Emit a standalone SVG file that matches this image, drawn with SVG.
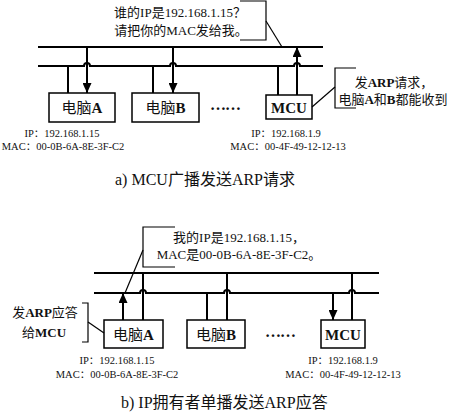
<svg xmlns="http://www.w3.org/2000/svg" width="454" height="415" viewBox="0 0 454 415">
<defs>
<marker id="ah" markerUnits="userSpaceOnUse" markerWidth="11" markerHeight="9" refX="10" refY="4.5" orient="auto">
<path d="M0,0 L10,4.5 L0,9 z" fill="#000"/>
</marker>
<style>
text{font-family:"Liberation Serif","Noto Sans CJK SC",serif;fill:#111}
.bus{fill:none;stroke:#000;stroke-width:2}
.ln{fill:none;stroke:#000;stroke-width:2}
.box{fill:#fff;stroke:#000;stroke-width:1.5}
.co{fill:none;stroke:#000;stroke-width:1.2}
.nt{font-size:15px;text-anchor:middle}
.b{font-weight:bold}
.ct{font-size:13px;text-anchor:middle}
.ip{font-size:10.5px;text-anchor:middle}
.cap{font-size:16px}
.dots{font-size:16px;font-weight:bold;text-anchor:middle;letter-spacing:-1px}
</style>
</defs>
<rect width="454" height="415" fill="#fff"/>

<g id="connectors">
<!-- panel a -->
<path class="bus" d="M38 47 H323"/>
<path class="bus" d="M38 66 H84 A3 3 0 0 1 90 66 H170 A3 3 0 0 1 176 66 H294 A3 3 0 0 1 300 66 H323"/>
<path class="ln" d="M68 66 V93"/>
<path class="ln" d="M87 47 V93" marker-end="url(#ah)"/>
<path class="ln" d="M153 66 V93"/>
<path class="ln" d="M173 47 V93" marker-end="url(#ah)"/>
<path class="ln" d="M278 66 V95"/>
<path class="ln" d="M297 95 V47" marker-end="url(#ah)"/>
<!-- panel b -->
<path class="bus" d="M94 273 H379"/>
<path class="bus" d="M94 293 H140 A3 3 0 0 1 146 293 H224 A3 3 0 0 1 230 293 H349 A3 3 0 0 1 355 293 H379"/>
<path class="ln" d="M123 320 V293" marker-end="url(#ah)"/>
<path class="ln" d="M143 273 V320"/>
<path class="ln" d="M207 293 V320"/>
<path class="ln" d="M227 273 V320"/>
<path class="ln" d="M333 293 V320" marker-end="url(#ah)"/>
<path class="ln" d="M352 273 V320"/>
</g>

<g id="pcA_a">
<rect class="box" x="49" y="93" width="66" height="29"/>
<text class="nt" x="82" y="113">电脑<tspan class="b">A</tspan></text>
<text class="ip" x="62" y="137">IP：192.168.1.15</text>
<text class="ip" x="63" y="150">MAC：00-0B-6A-8E-3F-C2</text>
</g>
<g id="pcB_a">
<rect class="box" x="132" y="93" width="67" height="29"/>
<text class="nt" x="165.5" y="113">电脑<tspan class="b">B</tspan></text>
</g>
<g id="dots_a"><text class="dots" x="225" y="110">……</text></g>
<g id="mcu_a">
<rect class="box" x="266" y="95" width="46" height="24"/>
<text class="nt b" x="289" y="113">MCU</text>
<text class="ip" x="286" y="137">IP：192.168.1.9</text>
<text class="ip" x="288" y="150">MAC：00-4F-49-12-12-13</text>
</g>
<g id="callout_a_top">
<path class="co" d="M240 1 H266 V40 H240"/>
<path class="co" d="M266 21 L282 47"/>
<text class="ct" x="180" y="17">谁的IP是192.168.1.15？</text>
<text class="ct" x="181" y="35">请把你的MAC发给我。</text>
</g>
<g id="callout_a_right">
<path class="co" d="M356 68 H335 V108 H356"/>
<path class="co" d="M312 107 L335 87"/>
<text class="ct" x="394" y="87">发<tspan class="b">ARP</tspan>请求，</text>
<text class="ct" x="393" y="104">电脑<tspan class="b">A</tspan>和<tspan class="b">B</tspan>都能收到</text>
</g>
<g id="caption_a"><text class="cap" x="115" y="185">a) MCU广播发送ARP请求</text></g>

<g id="pcA_b">
<rect class="box" x="104" y="320" width="59" height="28"/>
<text class="nt" x="133.5" y="340">电脑<tspan class="b">A</tspan></text>
<text class="ip" x="117" y="364">IP：192.168.1.15</text>
<text class="ip" x="117" y="378">MAC：00-0B-6A-8E-3F-C2</text>
</g>
<g id="pcB_b">
<rect class="box" x="187" y="320" width="58" height="28"/>
<text class="nt" x="216" y="340">电脑<tspan class="b">B</tspan></text>
</g>
<g id="dots_b"><text class="dots" x="280" y="337">……</text></g>
<g id="mcu_b">
<rect class="box" x="321" y="320" width="44" height="28"/>
<text class="nt b" x="343" y="340">MCU</text>
<text class="ip" x="343" y="364">IP：192.168.1.9</text>
<text class="ip" x="343" y="378">MAC：00-4F-49-12-12-13</text>
</g>
<g id="callout_b_top">
<path class="co" d="M175 227 H143 V267 H175"/>
<path class="co" d="M143 250 L125 293"/>
<text class="ct" x="239" y="242">我的IP是192.168.1.15，</text>
<text class="ct" x="239" y="259">MAC是00-0B-6A-8E-3F-C2。</text>
</g>
<g id="callout_b_left">
<path class="co" d="M82 303 H88 V342 H82"/>
<path class="co" d="M88 322 L104 333"/>
<text class="ct" x="45" y="317">发<tspan class="b">ARP</tspan>应答</text>
<text class="ct" x="44" y="337">给<tspan class="b">MCU</tspan></text>
</g>
<g id="caption_b"><text class="cap" x="121" y="408">b) IP拥有者单播发送ARP应答</text></g>
</svg>
